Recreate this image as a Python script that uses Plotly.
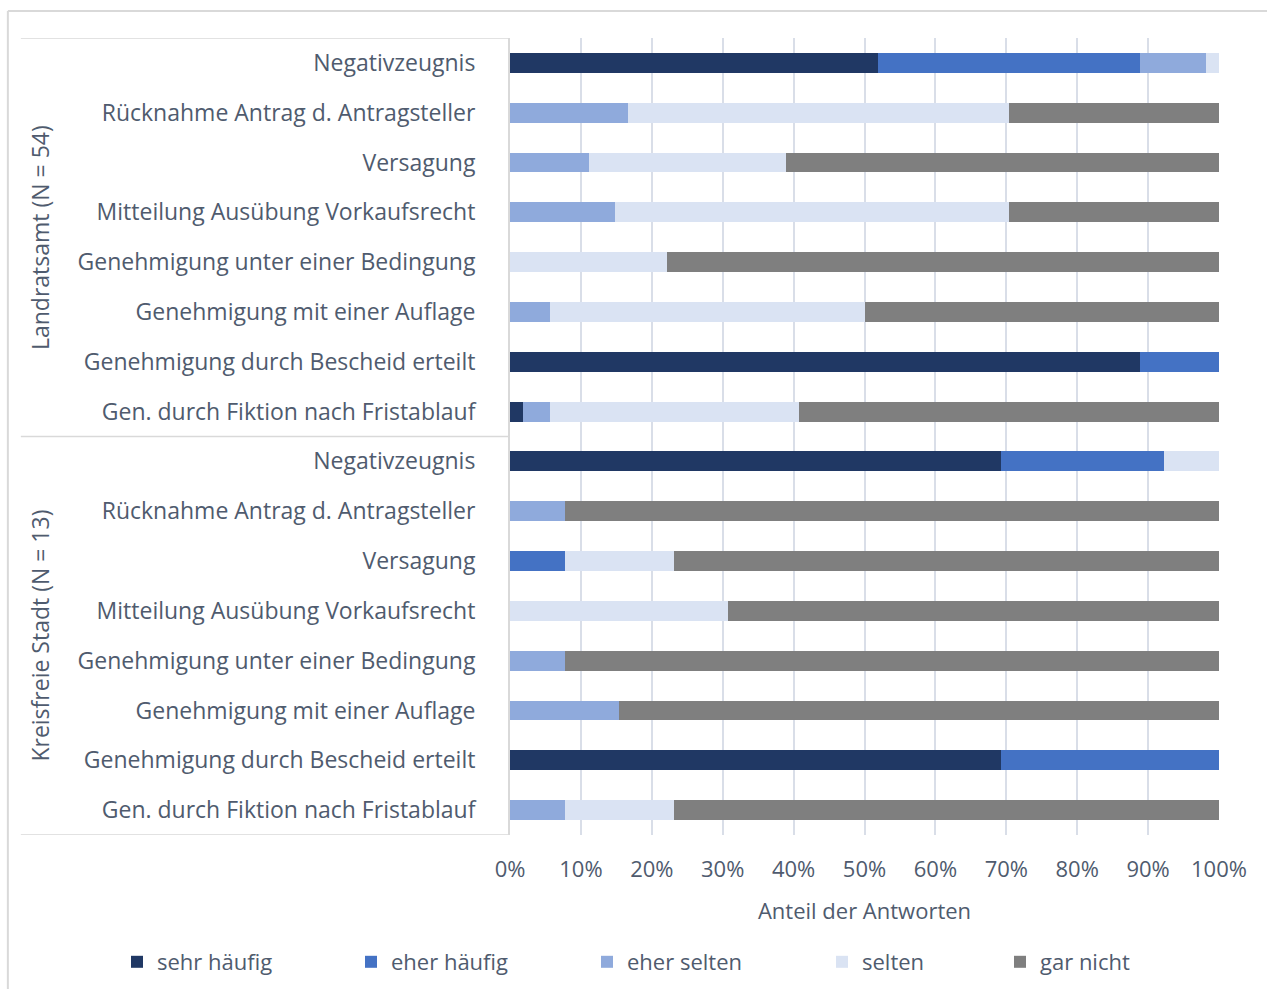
import plotly.graph_objects as go

# --- data (percent of answers) ---
items = [
    "Negativzeugnis",
    "Rücknahme Antrag d. Antragsteller",
    "Versagung",
    "Mitteilung Ausübung Vorkaufsrecht",
    "Genehmigung unter einer Bedingung",
    "Genehmigung mit einer Auflage",
    "Genehmigung durch Bescheid erteilt",
    "Gen. durch Fiktion nach Fristablauf",
]
groups = ["Landratsamt (N = 54)", "Kreisfreie Stadt (N = 13)"]
series_names = ["sehr häufig", "eher häufig", "eher selten", "selten", "gar nicht"]

# Landratsamt (N = 54)
lra_sehr_haeufig = [51.9, 0, 0, 0, 0, 0, 88.9, 1.9]
lra_eher_haeufig = [37.0, 0, 0, 0, 0, 0, 11.1, 0]
lra_eher_selten = [9.3, 16.7, 11.1, 14.8, 0, 5.6, 0, 3.7]
lra_selten = [1.8, 53.7, 27.8, 55.6, 22.2, 44.4, 0, 35.2]
lra_gar_nicht = [0, 29.6, 61.1, 29.6, 77.8, 50.0, 0, 59.2]

# Kreisfreie Stadt (N = 13)
ks_sehr_haeufig = [69.2, 0, 0, 0, 0, 0, 69.2, 0]
ks_eher_haeufig = [23.1, 0, 7.7, 0, 0, 0, 30.8, 0]
ks_eher_selten = [0, 7.7, 0, 0, 7.7, 15.4, 0, 7.7]
ks_selten = [7.7, 0, 15.4, 30.8, 0, 0, 0, 15.4]
ks_gar_nicht = [0, 92.3, 76.9, 69.2, 92.3, 84.6, 0, 76.9]

x_ticks = [0, 10, 20, 30, 40, 50, 60, 70, 80, 90, 100]
x_title = "Anteil der Antworten"

colors = ["#203864", "#4472C4", "#8FAADC", "#DAE3F3", "#7F7F7F"]

lra = [lra_sehr_haeufig, lra_eher_haeufig, lra_eher_selten, lra_selten, lra_gar_nicht]
ks = [ks_sehr_haeufig, ks_eher_haeufig, ks_eher_selten, ks_selten, ks_gar_nicht]

labels = items + items
ypos = list(range(len(labels)))

TEXT = "#4F5B6E"
FONT = "'Open Sans', Lato, sans-serif"
FS = 22
FS_LBL = 23
GRID = "#D9DEE8"
FRAME = "#D9D9D9"

legend_ids = ["legend", "legend2", "legend3", "legend4", "legend5"]
legend_text_x = [157, 391, 627, 862, 1040]

fig = go.Figure()
for i, name in enumerate(series_names):
    fig.add_trace(go.Bar(
        y=ypos,
        x=lra[i] + ks[i],
        name=name,
        orientation="h",
        marker=dict(color=colors[i], line=dict(width=0)),
        width=0.4,
        legend=legend_ids[i],
        showlegend=True,
    ))

L, R, T, B = 509.5, 48, 38, 154
W, H = 1267, 989
pw, ph = W - L - R, H - T - B

def px_x(px):
    return (px - L) / pw

def px_y(py):
    return (H - B - py) / ph

shapes = []
# group dividers
for yv in [-0.5, 7.5, 15.5]:
    shapes.append(dict(type="line", xref="paper", yref="y",
                       x0=px_x(20), x1=px_x(508), y0=yv, y1=yv,
                       line=dict(color=FRAME, width=1.5)))
# outer frame (top and left)
shapes.append(dict(type="line", xref="paper", yref="paper",
                   x0=px_x(7), x1=px_x(1300), y0=px_y(11), y1=px_y(11),
                   line=dict(color=FRAME, width=2)))
shapes.append(dict(type="line", xref="paper", yref="paper",
                   x0=px_x(7), x1=px_x(7), y0=px_y(11), y1=px_y(1010),
                   line=dict(color=FRAME, width=2)))

annotations = []
for gi, g in enumerate(groups):
    annotations.append(dict(
        text=g, xref="paper", yref="y", x=px_x(39), y=gi * 8 + 3.5,
        textangle=-90, showarrow=False, xanchor="center", yanchor="middle",
        font=dict(family=FONT, size=FS_LBL, color=TEXT)))

legend_common = dict(
    orientation="h", xref="container", yref="container",
    y=(H - 962) / H, xanchor="left", yanchor="middle",
    font=dict(family=FONT, size=FS, color=TEXT),
    itemsizing="constant", traceorder="normal",
    bgcolor="rgba(0,0,0,0)",
)
legends = {lid: dict(x=(tx - 40) / W, **legend_common)
           for lid, tx in zip(legend_ids, legend_text_x)}

fig.update_layout(
    width=W, height=H,
    margin=dict(l=L, r=R, t=T, b=B, autoexpand=False),
    paper_bgcolor="white", plot_bgcolor="white",
    barmode="stack",
    showlegend=True,
    font=dict(family=FONT, size=FS, color=TEXT),
    shapes=shapes,
    annotations=annotations,
    xaxis=dict(
        range=[0, 100], tickvals=x_ticks, ticktext=[f"{v}%" for v in x_ticks],
        showgrid=True, gridcolor=GRID, gridwidth=2,
        zeroline=False, showline=False, ticks="",
        ticklabelstandoff=19,
        tickfont=dict(family=FONT, size=FS, color=TEXT),
        title=dict(text=x_title, standoff=21,
                   font=dict(family=FONT, size=FS, color=TEXT)),
        fixedrange=True,
    ),
    yaxis=dict(
        range=[15.5, -0.5], tickvals=ypos, ticktext=labels,
        showgrid=False, zeroline=False, showline=True, linecolor=FRAME, linewidth=2,
        ticks="", ticklabelstandoff=28,
        tickfont=dict(family=FONT, size=FS_LBL, color=TEXT),
        fixedrange=True,
    ),
    **legends,
)

fig.write_html("out.html", config={"displayModeBar": False},
               post_script="document.body.style.margin='0';")
